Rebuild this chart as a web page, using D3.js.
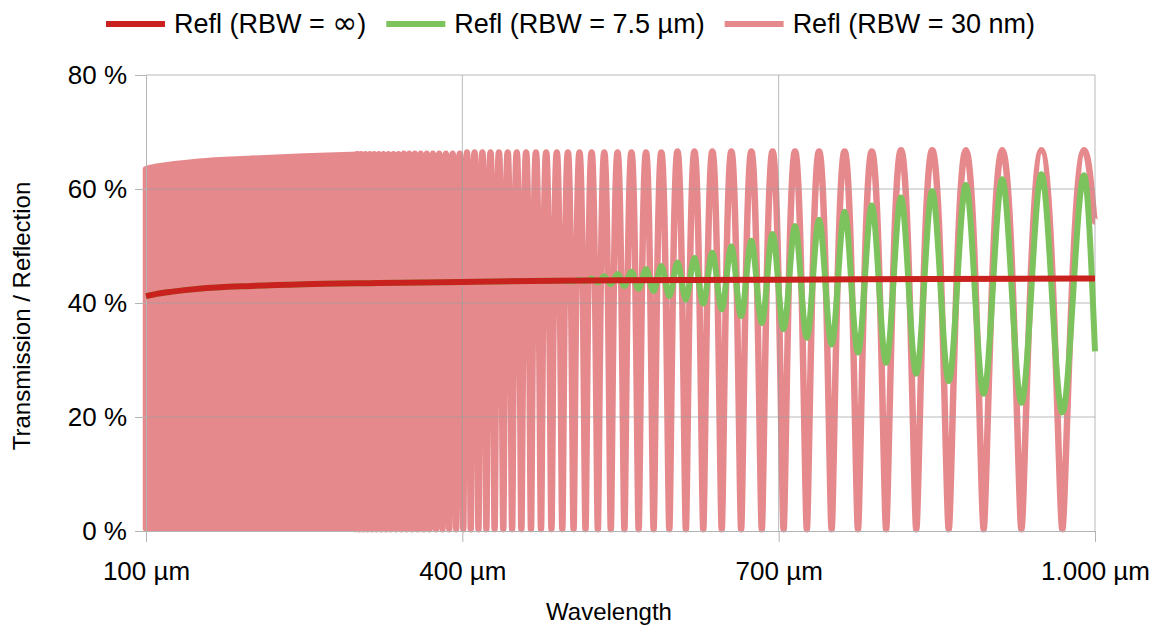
<!DOCTYPE html>
<html>
<head>
<meta charset="utf-8">
<script src="https://cdn.jsdelivr.net/npm/d3@7"></script>
<style>
  body { margin: 0; background: #fff; }
  text { font-family: "Liberation Sans", Arial, sans-serif; fill: #000; }
</style>
</head>
<body>
<svg id="chart"></svg>
<script>
// axis ticks
const xTicks = [100, 400, 700, 1000];
const xTickLabels = ['100 µm', '400 µm', '700 µm', '1.000 µm'];
const yTicks = [0, 20, 40, 60, 80];
const yTickLabels = ['0 %', '20 %', '40 %', '60 %', '80 %'];

const seriesNames = ['Refl (RBW = ∞)', 'Refl (RBW = 7.5 µm)', 'Refl (RBW = 30 nm)'];

// Refl (RBW = infinite) : [wavelength µm, %]
const reflInf = [
  [100, 41.2], [110, 41.6], [125, 42.0], [150, 42.5], [200, 43.0], [250, 43.3],
  [320, 43.5], [400, 43.7], [490, 43.9], [550, 44.0], [700, 44.1], [850, 44.2], [1000, 44.3],
];

// Refl (RBW = 7.5 µm) : peaks and troughs
const refl75 = [
  [100, 41.2], [110, 41.6], [125, 42.0], [150, 42.5], [200, 43.0], [250, 43.3],
  [320, 43.5], [400, 43.7], [490, 43.9],
  [505.5, 43.8], [511.1, 44.1], [516.8, 43.8], [522.6, 44.3], [528.5, 43.6],
  [534.6, 44.7], [540.8, 43.3], [547.2, 45.1], [553.7, 43.0], [560.4, 45.5],
  [567.2, 42.5], [574.2, 45.9], [581.4, 42.1], [588.7, 46.5], [596.3, 41.2],
  [604.0, 47.1], [612.0, 40.6], [620.1, 47.9], [628.5, 39.9], [637.1, 48.8],
  [646.0, 38.9], [655.1, 49.9], [664.4, 37.7], [674.1, 50.9], [684.0, 36.5],
  [694.2, 52.1], [704.7, 35.4], [715.5, 53.5], [726.7, 33.9], [738.3, 54.6],
  [750.2, 32.7], [762.5, 56.0], [775.2, 31.3], [788.3, 57.1], [801.9, 29.5],
  [816.0, 58.5], [830.5, 27.6], [845.6, 59.6], [861.3, 26.3], [877.5, 60.7],
  [894.4, 24.1], [912.0, 61.7], [930.2, 22.5], [949.2, 62.6], [969.0, 20.8],
  [989.6, 62.4], [1000, 31.5],
];

// Refl (RBW = 30 nm), part where the fringes are too dense to separate: top edge
const refl30Dense = [
  [100, 63.5], [110, 63.9], [125, 64.3], [150, 64.8], [200, 65.3],
  [250, 65.7], [302, 66.0],
];
const denseFloor = 0.5;

// Refl (RBW = 30 nm), resolved fringes: troughs and peaks
const refl30 = [
  [298.1, 0.3], [300.1, 66.1], [302.0, 0.3], [304.0, 66.1], [306.0, 0.3], [308.0, 66.1],
  [310.1, 0.3], [312.2, 66.1], [314.3, 0.3], [316.4, 66.1], [318.6, 0.3], [320.8, 66.1],
  [323.0, 0.3], [325.2, 66.1], [327.5, 0.3], [329.9, 66.1], [332.2, 0.3], [334.6, 66.1],
  [337.0, 0.3], [339.5, 66.1], [342.0, 0.3], [344.5, 66.2], [347.1, 0.3], [349.7, 66.2],
  [352.3, 0.3], [355.0, 66.2], [357.8, 0.3], [360.5, 66.2], [363.4, 0.3], [366.2, 66.2],
  [369.1, 0.3], [372.1, 66.2], [375.1, 0.3], [378.1, 66.2], [381.2, 0.3], [384.4, 66.2],
  [387.6, 0.3], [390.8, 66.2], [394.2, 0.3], [397.5, 66.2], [400.9, 0.3], [404.4, 66.4],
  [408.0, 0.3], [411.6, 66.4], [415.3, 0.3], [419.0, 66.4], [422.8, 0.3], [426.7, 66.4],
  [430.6, 0.3], [434.7, 66.4], [438.8, 0.3], [443.0, 66.4], [447.2, 0.3], [451.6, 66.4],
  [456.0, 0.3], [460.5, 66.4], [465.1, 0.3], [469.8, 66.4], [474.6, 0.3], [479.5, 66.4],
  [484.5, 0.3], [489.6, 66.4], [494.8, 0.3], [500.1, 66.4], [505.5, 0.3], [511.1, 66.4],
  [516.8, 0.3], [522.6, 66.4], [528.5, 0.3], [534.6, 66.4], [540.8, 0.3], [547.2, 66.4],
  [553.7, 0.3], [560.4, 66.4], [567.2, 0.3], [574.2, 66.4], [581.4, 0.3], [588.7, 66.4],
  [596.3, 0.3], [604.0, 66.6], [612.0, 0.3], [620.1, 66.6], [628.5, 0.3], [637.1, 66.6],
  [646.0, 0.3], [655.1, 66.6], [664.4, 0.3], [674.1, 66.6], [684.0, 0.3], [694.2, 66.6],
  [704.7, 0.3], [715.5, 66.6], [726.7, 0.3], [738.3, 66.6], [750.2, 0.3], [762.5, 66.6],
  [775.2, 0.3], [788.3, 66.6], [801.9, 0.3], [816.0, 66.8], [830.5, 0.3], [845.6, 66.8],
  [861.3, 0.3], [877.5, 66.8], [894.4, 0.3], [912.0, 66.8], [930.2, 0.3], [949.2, 66.8],
  [969.0, 0.3], [989.6, 66.8], [1000, 54.3],
];

const colors = ['#c9211e', '#7cc35e', '#e6898d'];

// size and plot area
const width = 1161;
const height = 628;
const plot = { left: 146, right: 1095, top: 75, bottom: 531 };

const svg = d3.select('#chart').attr('width', width).attr('height', height);

const xScale = d3.scaleLinear().domain([100, 1000]).range([plot.left, plot.right]);
const yScale = d3.scaleLinear().domain([0, 80]).range([plot.bottom, plot.top]);

// fringe curve: narrow troughs, broad round peaks (Airy-like shape)
function fringeCurve(context) {
  return {
    areaStart() {},
    areaEnd() {},
    lineStart() { this.n = 0; },
    lineEnd() {},
    point(x, y) {
      x = +x; y = +y;
      if (this.n === 0) {
        context.moveTo(x, y);
      } else {
        const dx = x - this.x0;
        const up = y < this.y0;
        const a = up ? 0.15 : 0.55;
        const b = up ? 0.55 : 0.15;
        context.bezierCurveTo(this.x0 + a * dx, this.y0, x - b * dx, y, x, y);
      }
      this.n++;
      this.x0 = x;
      this.y0 = y;
    },
  };
}

// pink: dense part as a band, then the fringes
svg.append('path')
  .datum(refl30Dense)
  .attr('fill', colors[2])
  .attr('stroke', colors[2])
  .attr('stroke-width', 6.5)
  .attr('stroke-linejoin', 'round')
  .attr('d', d3.area()
    .x(d => xScale(d[0]))
    .y0(yScale(denseFloor))
    .y1(d => yScale(d[1]))
    .curve(d3.curveMonotoneX));

svg.append('path')
  .datum(refl30)
  .attr('fill', 'none')
  .attr('stroke', colors[2])
  .attr('stroke-width', 6.5)
  .attr('d', d3.line()
    .x(d => xScale(d[0]))
    .y(d => yScale(d[1]))
    .curve(fringeCurve));

// grid lines
const grid = svg.append('g').attr('stroke', '#9c9c9c').attr('stroke-opacity', 0.7);
grid.selectAll('line.h')
  .data(yTicks.slice(1))
  .join('line')
  .attr('x1', plot.left).attr('x2', plot.right)
  .attr('y1', d => yScale(d)).attr('y2', d => yScale(d));
grid.selectAll('line.v')
  .data(xTicks.slice(1))
  .join('line')
  .attr('y1', plot.top).attr('y2', plot.bottom)
  .attr('x1', d => xScale(d)).attr('x2', d => xScale(d));

// axes
const xAxis = d3.axisBottom(xScale)
  .tickValues(xTicks)
  .tickFormat((d, i) => xTickLabels[i])
  .tickSize(11)
  .tickSizeOuter(0)
  .tickPadding(20);

const yAxis = d3.axisLeft(yScale)
  .tickValues(yTicks)
  .tickFormat((d, i) => yTickLabels[i])
  .tickSize(11)
  .tickSizeOuter(0)
  .tickPadding(8);

const gx = svg.append('g')
  .attr('transform', `translate(0,${plot.bottom})`)
  .call(xAxis);
const gy = svg.append('g')
  .attr('transform', `translate(${plot.left},0)`)
  .call(yAxis);

[gx, gy].forEach(g => {
  g.select('.domain').attr('stroke', '#b3b3b3');
  g.selectAll('.tick line').attr('stroke', '#b3b3b3');
  g.selectAll('.tick text')
    .attr('fill', '#000')
    .style('font-family', '"Liberation Sans", Arial, sans-serif')
    .style('font-size', '26px');
});

// green and red on top
svg.append('path')
  .datum(refl75)
  .attr('fill', 'none')
  .attr('stroke', colors[1])
  .attr('stroke-width', 6)
  .attr('stroke-linejoin', 'round')
  .attr('d', d3.line()
    .x(d => xScale(d[0]))
    .y(d => yScale(d[1]))
    .curve(d3.curveMonotoneX));

svg.append('path')
  .datum(reflInf)
  .attr('fill', 'none')
  .attr('stroke', colors[0])
  .attr('stroke-width', 6)
  .attr('d', d3.line()
    .x(d => xScale(d[0]))
    .y(d => yScale(d[1]))
    .curve(d3.curveMonotoneX));

// axis titles
svg.append('text')
  .attr('x', 609)
  .attr('y', 620)
  .attr('text-anchor', 'middle')
  .style('font-size', '24px')
  .text('Wavelength');

svg.append('text')
  .attr('transform', 'translate(30,316) rotate(-90)')
  .attr('text-anchor', 'middle')
  .style('font-size', '24px')
  .text('Transmission / Reflection');

// legend (the infinity sign is wider in the original, so it gets DejaVu Sans)
const legend = svg.append('g');
let lx = 106;
seriesNames.forEach((name, i) => {
  legend.append('line')
    .attr('x1', lx).attr('x2', lx + 59)
    .attr('y1', 24).attr('y2', 24)
    .attr('stroke', colors[i])
    .attr('stroke-width', 6);
  const t = legend.append('text')
    .attr('x', lx + 68)
    .attr('y', 33)
    .style('font-size', '27px');
  name.split(/(∞)/).forEach(part => {
    if (!part) return;
    const ts = t.append('tspan').text(part);
    if (part === '∞') ts.style('font-family', '"DejaVu Sans", sans-serif').style('font-size', '30px');
  });
  lx = lx + 68 + t.node().getComputedTextLength() + 20;
});
</script>
</body>
</html>
